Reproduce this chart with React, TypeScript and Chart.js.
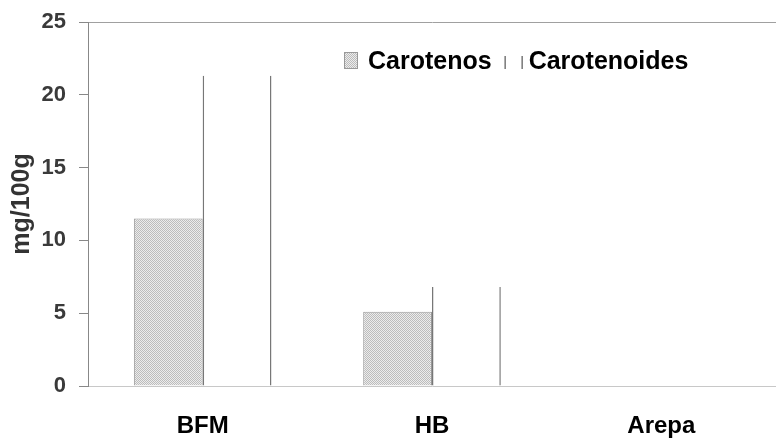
import React, { useEffect, useRef } from "react";
import { Chart, registerables } from "chart.js";

Chart.register(...registerables);

const categories = ["BFM", "HB", "Arepa"];
const carotenos = [11.5, 5.1, 0];
const carotenoides = [21.3, 6.8, 0];
const seriesLabels = ["Carotenos", "Carotenoides"];
const yTickMin = 0;
const yTickMax = 25;
const yTickStep = 5;

function makeDotPattern(): CanvasPattern | string {
  const c = document.createElement("canvas");
  c.width = 2;
  c.height = 2;
  const g = c.getContext("2d");
  if (!g) return "#d4d4d4";
  g.fillStyle = "#ececec";
  g.fillRect(0, 0, 2, 2);
  g.fillStyle = "#bcbcbc";
  g.fillRect(0, 0, 1, 1);
  g.fillRect(1, 1, 1, 1);
  const p = g.createPattern(c, "repeat");
  return p || "#d4d4d4";
}

export default function App() {
  const ref = useRef<HTMLCanvasElement | null>(null);

  useEffect(() => {
    document.body.style.margin = "0";
    const canvas = ref.current;
    if (!canvas) return;
    const pattern = makeDotPattern();

    const legendPlugin = {
      id: "inlineLegend",
      afterDraw(chart: any) {
        const { ctx, chartArea } = chart;
        ctx.save();
        ctx.font = "bold 25px 'Liberation Sans', Arial, sans-serif";
        ctx.textBaseline = "alphabetic";
        let x = chartArea.left + 256;
        const baseY = chartArea.top + 47;
        ctx.fillStyle = pattern as any;
        ctx.fillRect(x, baseY - 17, 14, 17);
        ctx.strokeStyle = "#999";
        ctx.lineWidth = 1;
        ctx.strokeRect(x + 0.5, baseY - 16.5, 13, 16);
        x += 24;
        ctx.fillStyle = "#000";
        ctx.fillText(seriesLabels[0], x, baseY);
        x += ctx.measureText(seriesLabels[0]).width + 13;
        ctx.strokeStyle = "#555";
        ctx.lineWidth = 1.2;
        ctx.beginPath();
        ctx.moveTo(x + 0.5, baseY - 13);
        ctx.lineTo(x + 0.5, baseY);
        ctx.moveTo(x + 17.5, baseY - 13);
        ctx.lineTo(x + 17.5, baseY);
        ctx.stroke();
        x += 24;
        ctx.fillText(seriesLabels[1], x, baseY);
        ctx.restore();
      },
    };

    const chart = new Chart(canvas, {
      type: "bar",
      data: {
        labels: categories,
        datasets: [
          {
            label: seriesLabels[0],
            data: carotenos,
            backgroundColor: pattern as any,
            borderColor: "#999",
            borderWidth: 1,
            categoryPercentage: 0.6,
            barPercentage: 1,
          },
          {
            label: seriesLabels[1],
            data: carotenoides,
            backgroundColor: "#ffffff",
            borderColor: "#777",
            borderWidth: { left: 1.5, right: 1.5, top: 0, bottom: 0 } as any,
            categoryPercentage: 0.6,
            barPercentage: 1,
          },
        ],
      },
      options: {
        animation: false,
        responsive: true,
        maintainAspectRatio: false,
        devicePixelRatio: 1,
        layout: { padding: { left: 7, top: 22, right: 0, bottom: 0 } },
        plugins: {
          legend: { display: false },
          tooltip: { enabled: false },
        },
        scales: {
          x: {
            grid: { display: false, drawTicks: false },
            border: { display: true, color: "#c8c8c8", width: 1 },
            ticks: {
              color: "#000",
              padding: 28,
              maxRotation: 0,
              font: { family: "'Liberation Sans', Arial, sans-serif", size: 24, weight: "bold", lineHeight: 1 },
            },
            afterFit: (s: any) => {
              s.height = 52;
            },
          },
          y: {
            min: yTickMin,
            max: yTickMax,
            ticks: {
              stepSize: yTickStep,
              color: "#3a3a3a",
              padding: 13,
              font: { family: "'Liberation Sans', Arial, sans-serif", size: 22, weight: "bold", lineHeight: 0.8 },
            },
            grid: {
              drawOnChartArea: true,
              drawTicks: true,
              tickLength: 9,
              color: (c: any) => (c.tick && c.tick.value === yTickMax ? "#a0a0a0" : "rgba(0,0,0,0)"),
              tickColor: "#888",
            },
            border: { display: true, color: "#888", width: 1 },
            title: {
              display: true,
              text: "mg/100g",
              color: "#333",
              padding: { top: 0, bottom: 6 },
              font: { family: "'Liberation Sans', Arial, sans-serif", size: 25, weight: "bold" },
            },
            afterFit: (s: any) => {
              s.width = 81;
            },
          },
        },
      },
      plugins: [legendPlugin],
    });

    return () => chart.destroy();
  }, []);

  return (
    <div style={{ width: 776, height: 438, position: "relative", background: "#fff" }}>
      <canvas ref={ref} />
    </div>
  );
}
